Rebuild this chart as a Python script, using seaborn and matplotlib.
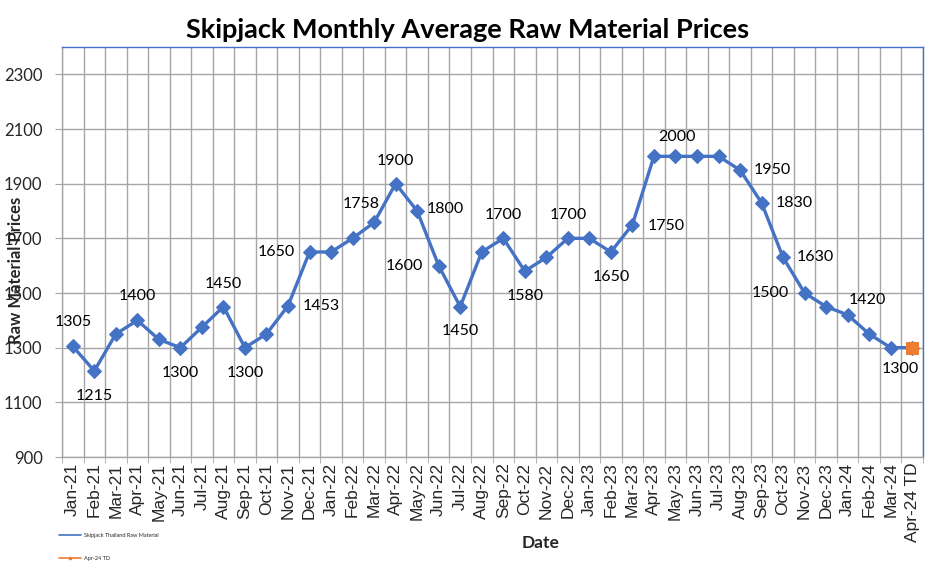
import numpy as np
import pandas as pd
import matplotlib
matplotlib.use("Agg")
import matplotlib.pyplot as plt
from matplotlib.lines import Line2D
import seaborn as sns

# ---- data ----
months = ["Jan-21", "Feb-21", "Mar-21", "Apr-21", "May-21", "Jun-21", "Jul-21", "Aug-21",
          "Sep-21", "Oct-21", "Nov-21", "Dec-21", "Jan-22", "Feb-22", "Mar-22", "Apr-22",
          "May-22", "Jun-22", "Jul-22", "Aug-22", "Sep-22", "Oct-22", "Nov-22", "Dec-22",
          "Jan-23", "Feb-23", "Mar-23", "Apr-23", "May-23", "Jun-23", "Jul-23", "Aug-23",
          "Sep-23", "Oct-23", "Nov-23", "Dec-23", "Jan-24", "Feb-24", "Mar-24", "Apr-24 TD"]
prices = [1305, 1215, 1350, 1400, 1330, 1300, 1375, 1450,
          1300, 1350, 1453, 1650, 1650, 1700, 1758, 1900,
          1800, 1600, 1450, 1650, 1700, 1580, 1630, 1700,
          1700, 1650, 1750, 2000, 2000, 2000, 2000, 1950,
          1830, 1630, 1500, 1450, 1420, 1350, 1300, 1300]
td_label = "Apr-24 TD"
td_price = 1300

# which points carry a data label, and where it sits (pixel offsets)
label_pos = {
    "Jan-21": (0, 24), "Feb-21": (0, -25), "Apr-21": (0, 24), "Jun-21": (0, -25),
    "Aug-21": (0, 23), "Sep-21": (0, -25), "Nov-21": (33, 0), "Dec-21": (-33, 0),
    "Mar-22": (-13, 18), "Apr-22": (0, 23), "May-22": (28, 2), "Jun-22": (-34, 0),
    "Jul-22": (0, -24), "Sep-22": (0, 23), "Oct-22": (0, -25), "Dec-22": (0, 23),
    "Feb-23": (0, -25), "Mar-23": (34, -1), "May-23": (1, 19), "Aug-23": (32, 0),
    "Sep-23": (33, 0), "Oct-23": (32, 0), "Nov-23": (-34, 0), "Jan-24": (20, 15),
    "Mar-24": (10, -21),
}

df = pd.DataFrame({"month": months, "price": prices})
df["pos"] = np.arange(len(df))
td = pd.DataFrame({"pos": [months.index(td_label)], "price": [td_price]})

BLUE = "#4472C4"
ORANGE = "#ED7D31"
GRID = "#A6A6A6"

sns.set_style("white")
plt.rcParams["font.family"] = ["Lato", "DejaVu Sans"]

fig = plt.figure(figsize=(9.33, 5.7), dpi=100)
ax = fig.add_axes([62 / 933, 1 - 457 / 570, (923 - 62) / 933, (457 - 47) / 570])

sns.lineplot(data=df, x="pos", y="price", ax=ax, color=BLUE, linewidth=2.4,
             marker="D", markersize=7, markeredgecolor=BLUE, legend=False, zorder=3)
sns.lineplot(data=td, x="pos", y="price", ax=ax, color=ORANGE, linewidth=2.4,
             marker="s", markersize=8, markeredgecolor=ORANGE, legend=False, zorder=4)

# data labels
for m, (dx, dy) in label_pos.items():
    i = months.index(m)
    ax.annotate(f"{prices[i]}", (i, prices[i]), xytext=(dx, dy),
                textcoords="offset pixels", ha="center", va="center",
                fontsize=11.5, color="black")

# axes, grid
ax.set_xlim(-0.5, len(months) - 0.5)
ax.set_ylim(900, 2400)
ax.set_yticks(np.arange(900, 2400, 200))
ax.set_xticks(np.arange(len(months)))
ax.set_xticklabels(months, rotation=90, fontsize=12.5, family=["Liberation Sans", "DejaVu Sans"])
ax.set_xticks(np.arange(len(months) + 1) - 0.5, minor=True)
ax.tick_params(axis="y", labelsize=12, length=5, color=GRID, left=True, pad=9)
ax.tick_params(axis="x", which="major", length=0, pad=4)
ax.tick_params(axis="x", which="minor", length=4, color=GRID, bottom=True)
ax.grid(True, axis="y", which="major", color=GRID, linewidth=1)
ax.grid(True, axis="x", which="minor", color=GRID, linewidth=1)
ax.grid(False, axis="x", which="major")
ax.set_axisbelow(True)

for side in ["left", "bottom"]:
    ax.spines[side].set_color(GRID)
    ax.spines[side].set_linewidth(1)
for side in ["top", "right"]:
    ax.spines[side].set_color(BLUE)
    ax.spines[side].set_linewidth(1)

ax.set_xlabel("Date", fontsize=12.5, fontweight="bold")
ax.set_ylabel("Raw Material Prices", fontsize=12, fontweight="bold")
ax.xaxis.set_label_coords((541 - 62) / (923 - 62), -(535 - 457) / (457 - 47))
ax.yaxis.set_label_coords(-(62 - 24) / (923 - 62), (457 - 270) / (457 - 47))

fig.suptitle("Skipjack Monthly Average Raw Material Prices", fontsize=19.5,
             fontweight="bold", color="black", x=468 / 933, y=1 - 30 / 570, va="center")

# tiny legend in the bottom-left corner
handles = [Line2D([], [], color=BLUE, linewidth=1.2),
           Line2D([], [], color=ORANGE, linewidth=1.2, marker="s", markersize=2)]
labels = ["Skipjack Thailand Raw Material", "Apr-24 TD"]
fig.legend(handles, labels, loc="center left", bbox_to_anchor=(54 / 933, 1 - 547 / 570),
           fontsize=4, frameon=False, labelspacing=3.2,
           handlelength=4, handletextpad=0.5)

fig.savefig("out.png", dpi=100)
